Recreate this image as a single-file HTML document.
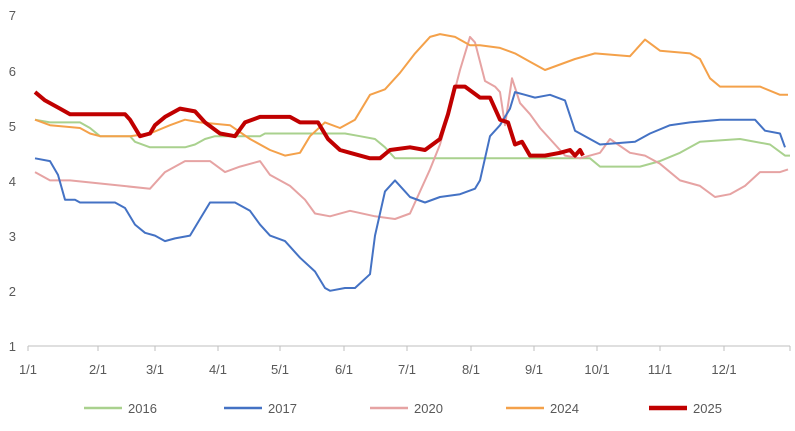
<!DOCTYPE html>
<html><head><meta charset="utf-8"><style>
body{margin:0;background:#fff;}
svg text{font-family:"Liberation Sans",sans-serif;fill:#595959;}
</style></head><body>
<svg id="c" width="795" height="426" viewBox="0 0 795 426" xmlns="http://www.w3.org/2000/svg">
<g font-size="13" text-anchor="end">
<text x="16" y="20">7</text><text x="16" y="76">6</text><text x="16" y="131">5</text>
<text x="16" y="186">4</text><text x="16" y="241">3</text><text x="16" y="296">2</text><text x="16" y="351">1</text>
</g>
<line x1="28" y1="346" x2="790" y2="346" stroke="#bfbfbf" stroke-width="1"/>
<g id="ticks" stroke="#bfbfbf"></g>
<g font-size="13" text-anchor="middle">
<text x="28" y="374">1/1</text><text x="98" y="374">2/1</text><text x="155" y="374">3/1</text>
<text x="218" y="374">4/1</text><text x="280" y="374">5/1</text><text x="344" y="374">6/1</text>
<text x="407" y="374">7/1</text><text x="471" y="374">8/1</text><text x="534" y="374">9/1</text>
<text x="597" y="374">10/1</text><text x="660" y="374">11/1</text><text x="724" y="374">12/1</text>
</g>
<g id="series" fill="none" stroke-linejoin="round"></g>
<g font-size="13">
<line x1="84" y1="408" x2="122" y2="408" stroke="#a9d18e" stroke-width="2.5"/><text x="128" y="413">2016</text>
<line x1="224" y1="408" x2="262" y2="408" stroke="#4472c4" stroke-width="2.5"/><text x="268" y="413">2017</text>
<line x1="370" y1="408" x2="408" y2="408" stroke="#e6a3a3" stroke-width="2.5"/><text x="414" y="413">2020</text>
<line x1="506" y1="408" x2="544" y2="408" stroke="#f4a14a" stroke-width="2.5"/><text x="550" y="413">2024</text>
<line x1="649" y1="408" x2="687" y2="408" stroke="#c00000" stroke-width="4.5"/><text x="693" y="413">2025</text>
</g>
</svg>
<script>
var NS="http://www.w3.org/2000/svg";
var t=document.getElementById('ticks');
[28,98,155,218,280,344,407,471,534,597,660,724,790].forEach(function(x){var l=document.createElementNS(NS,'line');l.setAttribute('x1',x);l.setAttribute('x2',x);l.setAttribute('y1',346);l.setAttribute('y2',351);t.appendChild(l);});
function Y(v){return 346-(v-1)*55.2;}
var S=[
["#a9d18e",2,[35,5.1,50,5.05,80,5.05,90,4.95,100,4.8,130,4.8,135,4.7,150,4.6,185,4.6,195,4.65,205,4.75,215,4.8,260,4.8,265,4.85,310,4.85,345,4.85,360,4.8,375,4.75,385,4.6,395,4.4,440,4.4,520,4.4,590,4.4,600,4.25,640,4.25,660,4.35,680,4.5,700,4.7,740,4.75,770,4.65,785,4.45,790,4.45]],
["#e6a3a3",2,[35,4.15,50,4.0,70,4.0,150,3.85,165,4.15,185,4.35,210,4.35,225,4.15,240,4.25,260,4.35,270,4.1,290,3.9,305,3.65,315,3.4,330,3.35,350,3.45,375,3.35,395,3.3,410,3.4,430,4.2,440,4.65,450,5.3,460,6.0,470,6.6,475,6.5,485,5.8,495,5.7,500,5.6,505,5.0,512,5.85,520,5.4,530,5.2,540,4.95,550,4.75,565,4.45,580,4.4,600,4.5,610,4.75,630,4.5,645,4.45,660,4.3,680,4.0,700,3.9,715,3.7,730,3.75,745,3.9,760,4.15,780,4.15,788,4.2]],
["#4472c4",2,[35,4.4,50,4.35,58,4.1,65,3.65,75,3.65,80,3.6,115,3.6,125,3.5,135,3.2,145,3.05,155,3.0,165,2.9,175,2.95,190,3.0,200,3.3,210,3.6,235,3.6,250,3.45,260,3.2,270,3.0,285,2.9,300,2.6,315,2.35,325,2.05,330,2.0,345,2.05,355,2.05,370,2.3,375,3.0,385,3.8,395,4.0,405,3.8,410,3.7,425,3.6,440,3.7,460,3.75,475,3.85,480,4.0,490,4.8,500,5.0,510,5.3,515,5.6,525,5.55,535,5.5,550,5.55,565,5.45,575,4.9,590,4.75,600,4.65,635,4.7,650,4.85,670,5.0,690,5.05,720,5.1,755,5.1,765,4.9,780,4.85,785,4.6]],
["#f4a14a",2,[35,5.1,50,5.0,80,4.95,90,4.85,100,4.8,130,4.8,150,4.85,170,5.0,185,5.1,200,5.05,230,5.0,250,4.75,270,4.55,285,4.45,300,4.5,310,4.8,325,5.05,340,4.95,355,5.1,370,5.55,385,5.65,400,5.95,415,6.3,430,6.6,440,6.65,455,6.6,470,6.45,480,6.45,500,6.4,515,6.3,530,6.15,545,6.0,560,6.1,575,6.2,595,6.3,630,6.25,645,6.55,660,6.35,690,6.3,700,6.2,710,5.85,720,5.7,760,5.7,780,5.55,788,5.55]],
["#c00000",4,[35,5.6,45,5.45,60,5.3,70,5.2,125,5.2,130,5.1,140,4.8,150,4.85,155,5.0,165,5.15,180,5.3,195,5.25,205,5.05,220,4.85,235,4.8,245,5.05,260,5.15,290,5.15,300,5.05,318,5.05,328,4.75,340,4.55,350,4.5,370,4.4,380,4.4,390,4.55,410,4.6,425,4.55,440,4.75,448,5.2,455,5.7,465,5.7,480,5.5,490,5.5,500,5.1,508,5.05,515,4.65,522,4.7,530,4.45,545,4.45,560,4.5,570,4.55,575,4.45,580,4.55,583,4.45]]
];
var g=document.getElementById('series');
S.forEach(function(s){var p=[];for(var i=0;i<s[2].length;i+=2)p.push(s[2][i]+","+Y(s[2][i+1]).toFixed(1));
var e=document.createElementNS(NS,'polyline');e.setAttribute('points',p.join(' '));e.setAttribute('stroke',s[0]);e.setAttribute('stroke-width',s[1]);g.appendChild(e);});
</script>
</body></html>
